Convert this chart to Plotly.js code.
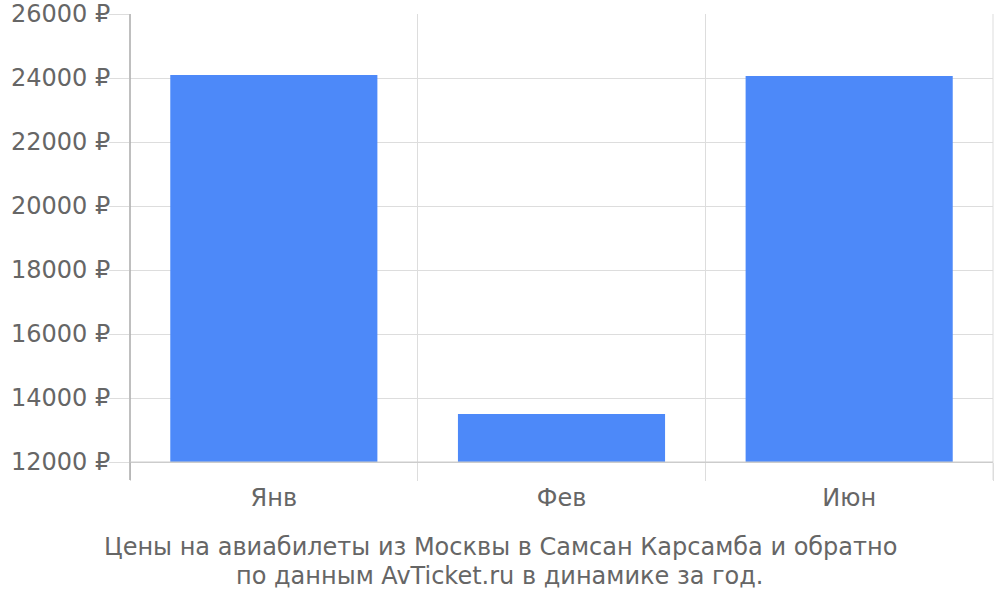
<!DOCTYPE html>
<html><head><meta charset="utf-8">
<script src="https://cdn.plot.ly/plotly-3.0.1.min.js"></script>
<style>html,body{margin:0;padding:0;background:#fff}#chart{width:1000px;height:600px}</style>
</head><body><div id="chart"></div>
<script>
var months = ["Янв", "Фев", "Июн"];
var prices = [24094, 13500, 24062];
var yTickVals = [12000, 14000, 16000, 18000, 20000, 22000, 24000, 26000];
var yTickText = yTickVals.map(function(v){ return v + " ₽"; });
var titleLine1 = "Цены на авиабилеты из Москвы в Самсан Карсамба и обратно";
var titleLine2 = "по данным AvTicket.ru в динамике за год.";

var font = {family: "DejaVu Sans, sans-serif", size: 24, color: "#666666"};

var data = [{
  type: "bar",
  x: months,
  y: prices,
  width: 0.72,
  marker: {color: "#4d89f9", line: {width: 0}},
  hoverinfo: "none"
}];

var layout = {
  width: 1000, height: 600,
  margin: {l: 130, r: 7, t: 14, b: 138, pad: 0},
  paper_bgcolor: "#ffffff", plot_bgcolor: "#ffffff",
  font: font,
  showlegend: false,
  bargap: 0.28,
  xaxis: {
    type: "category",
    tickson: "boundaries",
    ticks: "outside", ticklen: 18, tickwidth: 1, tickcolor: "#dddddd",
    ticklabelstandoff: 14,
    showgrid: true, gridcolor: "#dddddd", gridwidth: 1,
    showline: true, linecolor: "#cccccc", linewidth: 1,
    tickfont: font,
    zeroline: false,
    fixedrange: true
  },
  yaxis: {
    range: [12000, 26000],
    tickvals: yTickVals, ticktext: yTickText,
    ticks: "outside", ticklen: 20, tickwidth: 1, tickcolor: "#dddddd",
    ticklabelstandoff: -6,
    showgrid: true, gridcolor: "#dddddd", gridwidth: 1,
    showline: false,
    zeroline: false,
    tickfont: font,
    fixedrange: true
  },
  shapes: [
    {type: "line", xref: "paper", yref: "paper", x0: 0, x1: 0, y0: -18/448, y1: 1,
     line: {color: "#aaaaaa", width: 1.5}},
    {type: "line", xref: "paper", yref: "paper", x0: 1, x1: 1, y0: -18/448, y1: 1,
     line: {color: "#dddddd", width: 1}},
    {type: "line", xref: "paper", yref: "paper", x0: 0, x1: 1, y0: 0, y1: 0,
     line: {color: "#cccccc", width: 1}}
  ],
  annotations: [
    {text: titleLine1, xref: "paper", yref: "paper", x: (500-130)/863, y: -(547-462)/448,
     xanchor: "center", yanchor: "middle", showarrow: false, font: font},
    {text: titleLine2, xref: "paper", yref: "paper", x: (500-130)/863, y: -(576-462)/448,
     xanchor: "center", yanchor: "middle", showarrow: false, font: font}
  ]
};

Plotly.newPlot("chart", data, layout, {displayModeBar: false, staticPlot: true});
</script>
</body></html>
